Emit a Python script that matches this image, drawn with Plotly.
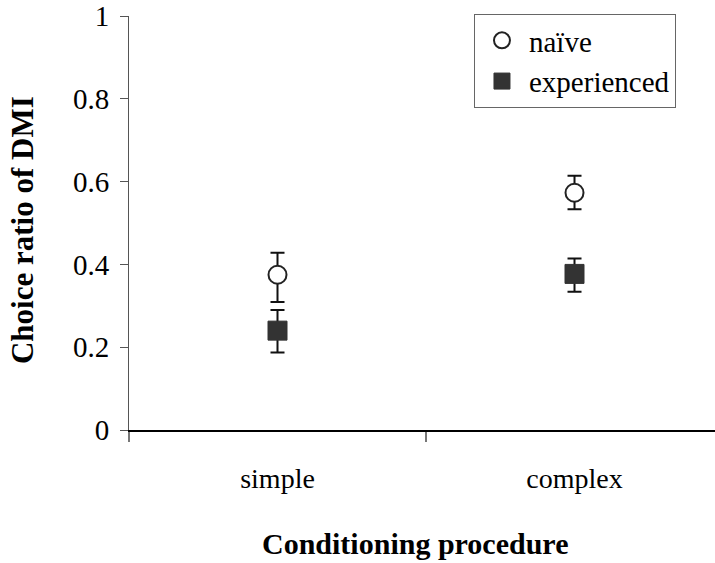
import plotly.graph_objects as go

categories = ["simple", "complex"]
naive_mean = [0.375, 0.573]
naive_err_plus = [0.053, 0.041]
naive_err_minus = [0.066, 0.040]
exp_mean = [0.240, 0.377]
exp_err_plus = [0.050, 0.037]
exp_err_minus = [0.053, 0.043]
y_ticks = [0, 0.2, 0.4, 0.6, 0.8, 1]
y_tick_text = ["0", "0.2", "0.4", "0.6", "0.8", "1"]

FONT = "Liberation Serif"

fig = go.Figure()
fig.add_trace(go.Scatter(
    x=categories, y=naive_mean, mode="markers", name="naïve",
    marker=dict(symbol="circle", size=18, color="white",
                line=dict(color="#222222", width=2)),
    error_y=dict(type="data", array=naive_err_plus, arrayminus=naive_err_minus,
                 color="#111111", thickness=2, width=7),
))
fig.add_trace(go.Scatter(
    x=categories, y=exp_mean, mode="markers", name="experienced",
    marker=dict(symbol="square", size=19, color="#333333",
                line=dict(color="#333333", width=1)),
    error_y=dict(type="data", array=exp_err_plus, arrayminus=exp_err_minus,
                 color="#111111", thickness=2, width=7),
))

fig.update_layout(
    width=715, height=563,
    margin=dict(l=129, r=0, t=16, b=133),
    paper_bgcolor="white", plot_bgcolor="white",
    font=dict(family=FONT, size=29, color="black"),
    showlegend=True,
    legend=dict(x=0.5887, y=1.0048, xanchor="left", yanchor="top",
                bordercolor="#666666", borderwidth=1, bgcolor="white",
                font=dict(family=FONT, size=29), itemsizing="trace",
                itemwidth=44, tracegroupgap=5),
    xaxis=dict(type="category", range=[-0.5, 1.473], tickson="boundaries",
               ticks="outside", ticklen=10, tickcolor="#777777", tickwidth=2,
               showline=True, linecolor="black", linewidth=2,
               showgrid=False, zeroline=False,
               tickfont=dict(family=FONT, size=28),
               ticklabelstandoff=22),
    yaxis=dict(range=[0, 1], tickvals=y_ticks, ticktext=y_tick_text,
               ticks="outside", ticklen=8, tickcolor="#555555", tickwidth=1,
               showline=True, linecolor="#555555", linewidth=1,
               showgrid=False, zeroline=False,
               tickfont=dict(family=FONT, size=29),
               ticklabelstandoff=5),
    annotations=[
        dict(text="<b>Choice ratio of DMI</b>", xref="paper", yref="paper",
             x=-0.1826, y=0.483, xanchor="center", yanchor="middle",
             textangle=-90, showarrow=False,
             font=dict(family=FONT, size=31, color="black")),
        dict(text="<b>Conditioning procedure</b>", xref="paper", yref="paper",
             x=0.488, y=-0.273, xanchor="center", yanchor="middle",
             showarrow=False,
             font=dict(family=FONT, size=30, color="black")),
    ],
)

fig.write_html("out.html")
